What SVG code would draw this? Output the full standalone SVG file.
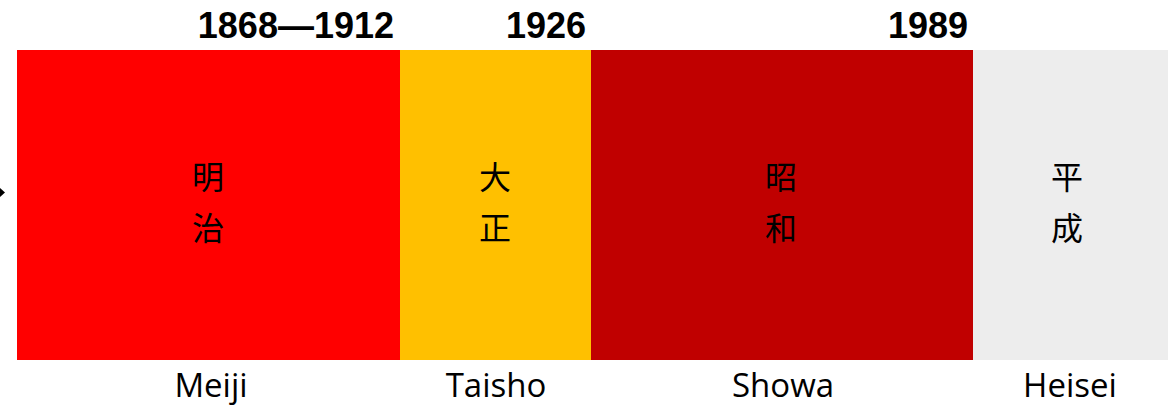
<svg xmlns="http://www.w3.org/2000/svg" width="1168" height="407" viewBox="0 0 1168 407">
<style>
.yr{font-family:"Liberation Sans",Arial,sans-serif;font-weight:bold;font-size:36px;fill:#000;text-anchor:end}
.kj{font-family:"Noto Sans CJK JP","Noto Sans CJK SC",sans-serif;font-size:32px;fill:#000;text-anchor:middle}
.en{font-family:"Open Sans","Liberation Sans",sans-serif;font-size:33px;fill:#000;text-anchor:middle}
</style>
<rect width="1168" height="407" fill="#fff"/>
<g id="connectors">
<polygon points="0,188 5,192.5 0,197" fill="#000"/>
</g>
<g id="years">
<text class="yr" x="394" y="38">1868—1912</text>
<text class="yr" x="586" y="38">1926</text>
<text class="yr" x="968" y="38">1989</text>
</g>
<g id="meiji">
<rect x="17" y="50" width="383" height="310" fill="#FF0000"/>
<text class="kj" x="208" y="189">明</text>
<text class="kj" x="208" y="240">治</text>
<text class="en" x="211" y="397">Meiji</text>
</g>
<g id="taisho">
<rect x="400" y="50" width="191" height="310" fill="#FFC000"/>
<text class="kj" x="495" y="189">大</text>
<text class="kj" x="495" y="240">正</text>
<text class="en" x="496" y="397">Taisho</text>
</g>
<g id="showa">
<rect x="591" y="50" width="382" height="310" fill="#C00000"/>
<text class="kj" x="781" y="189">昭</text>
<text class="kj" x="781" y="240">和</text>
<text class="en" x="783" y="397">Showa</text>
</g>
<g id="heisei">
<rect x="973" y="50" width="195" height="310" fill="#EDEDED"/>
<text class="kj" x="1067" y="189">平</text>
<text class="kj" x="1067" y="240">成</text>
<text class="en" x="1070" y="397">Heisei</text>
</g>
</svg>
